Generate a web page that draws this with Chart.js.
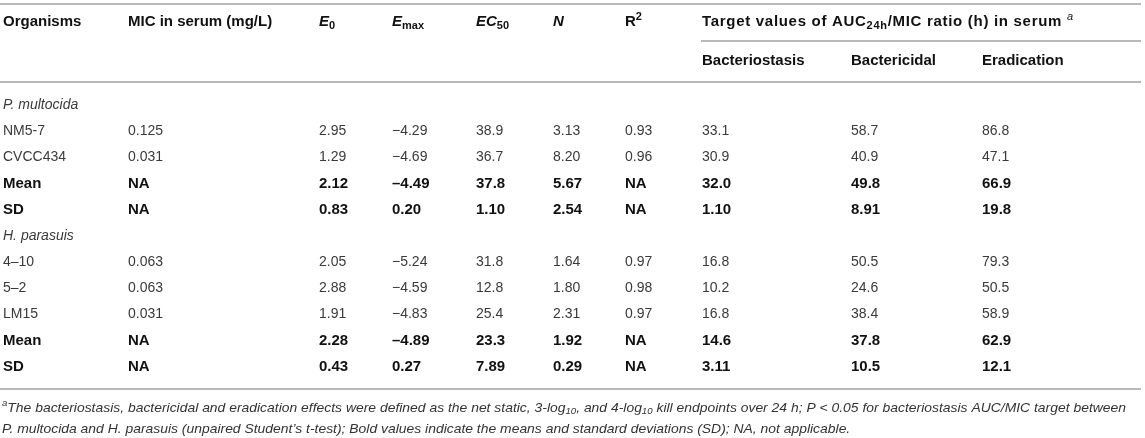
<!DOCTYPE html>
<html>
<head>
<meta charset="utf-8">
<script src="https://cdn.jsdelivr.net/npm/chart.js@4.4.0/dist/chart.umd.min.js"></script>
<style>
  html, body { margin: 0; padding: 0; background: #fff; }
  #wrap { width: 1145px; height: 438px; position: relative; }
</style>
</head>
<body>
<div id="wrap"><canvas id="table"></canvas></div>
<script>
// Table rows (first column) and the values in each column, as printed
var organisms = ['P. multocida', 'NM5-7', 'CVCC434', 'Mean', 'SD', 'H. parasuis', '4\u201310', '5\u20132', 'LM15', 'Mean', 'SD'];
var micSerum = ['', '0.125', '0.031', 'NA', 'NA', '', '0.063', '0.063', '0.031', 'NA', 'NA'];
var e0 = ['', '2.95', '1.29', '2.12', '0.83', '', '2.05', '2.88', '1.91', '2.28', '0.43'];
var emax = ['', '\u22124.29', '\u22124.69', '\u20134.49', '0.20', '', '\u22125.24', '\u22124.59', '\u22124.83', '\u20134.89', '0.27'];
var ec50 = ['', '38.9', '36.7', '37.8', '1.10', '', '31.8', '12.8', '25.4', '23.3', '7.89'];
var hillN = ['', '3.13', '8.20', '5.67', '2.54', '', '1.64', '1.80', '2.31', '1.92', '0.29'];
var rSquared = ['', '0.93', '0.96', 'NA', 'NA', '', '0.97', '0.98', '0.97', 'NA', 'NA'];
var bacteriostasis = ['', '33.1', '30.9', '32.0', '1.10', '', '16.8', '10.2', '16.8', '14.6', '3.11'];
var bactericidal = ['', '58.7', '40.9', '49.8', '8.91', '', '50.5', '24.6', '38.4', '37.8', '10.5'];
var eradication = ['', '86.8', '47.1', '66.9', '19.8', '', '79.3', '50.5', '58.9', '62.9', '12.1'];

var columns = [organisms, micSerum, e0, emax, ec50, hillN, rSquared, bacteriostasis, bactericidal, eradication];

// layout: left edge of each column (x scale runs in page pixels)
var colX = [3, 128, 319, 392, 476, 553, 625, 702, 851, 982];

var FONT = '"Liberation Sans", Arial, Helvetica, sans-serif';
var SIZE = 14;      // plain cells
var BOLD_SIZE = 15; // header and Mean/SD rows
var RULE = '#b8b8b8';

function fontFor(run, size) {
  return (run.i ? 'italic ' : '') + (run.b ? 'bold ' : '') + size + 'px ' + FONT;
}

// draw a line of mixed text (bold/italic/sub/sup), returns the end x
function drawRuns(ctx, x, y, runs, size, draw) {
  for (var k = 0; k < runs.length; k++) {
    var r = runs[k];
    var sz = (r.sub || r.sup) ? Math.round(size * 0.72) : size;
    var dy = r.sub ? size * 0.28 : (r.sup ? -size * 0.36 : 0);
    ctx.font = fontFor(r, sz);
    if (draw !== false) ctx.fillText(r.t, x, y + dy);
    x += ctx.measureText(r.t).width;
  }
  return x;
}

var headerRow1 = [
  [{t: 'Organisms', b: 1}],
  [{t: 'MIC in serum (mg/L)', b: 1}],
  [{t: 'E', b: 1, i: 1}, {t: '0', b: 1, sub: 1}],
  [{t: 'E', b: 1, i: 1}, {t: 'max', b: 1, sub: 1}],
  [{t: 'EC', b: 1, i: 1}, {t: '50', b: 1, sub: 1}],
  [{t: 'N', b: 1, i: 1}],
  [{t: 'R', b: 1}, {t: '2', b: 1, sup: 1}]
];
var groupHeader = [{t: 'Target values of AUC', b: 1}, {t: '24h', b: 1, sub: 1}, {t: '/MIC ratio (h) in serum ', b: 1}, {t: 'a', i: 1, sup: 1}];
var headerRow2 = ['Bacteriostasis', 'Bactericidal', 'Eradication'];

var note1 = [
  {t: 'a', i: 1, sup: 1},
  {t: 'The bacteriostasis, bactericidal and eradication effects were defined as the net static, 3-log', i: 1},
  {t: '10', i: 1, sub: 1},
  {t: ', and 4-log', i: 1},
  {t: '10', i: 1, sub: 1},
  {t: ' kill endpoints over 24 h; P < 0.05 for bacteriostasis AUC/MIC target between', i: 1}
];
var note2 = [
  {t: 'P. multocida and H. parasuis (unpaired Student\u2019s t-test); Bold values indicate the means and standard deviations (SD); NA, not applicable.', i: 1}
];

function hline(ctx, x1, x2, y) {
  ctx.beginPath();
  ctx.moveTo(x1, y);
  ctx.lineTo(x2, y);
  ctx.stroke();
}

var tablePlugin = {
  id: 'tableText',
  afterDatasetsDraw: function(chart) {
    var ctx = chart.ctx;
    ctx.save();
    ctx.textBaseline = 'middle';
    ctx.textAlign = 'left';

    // rules
    ctx.strokeStyle = RULE;
    ctx.lineWidth = 2;
    hline(ctx, 0, 1141, 4);
    hline(ctx, 701, 1141, 41);
    hline(ctx, 0, 1141, 82);
    hline(ctx, 0, 1141, 389);

    // header
    ctx.fillStyle = '#111';
    for (var h = 0; h < headerRow1.length; h++) {
      drawRuns(ctx, colX[h], 22, headerRow1[h], BOLD_SIZE);
    }
    // the group header is set a little looser than the rest
    if ('letterSpacing' in ctx) ctx.letterSpacing = '0.7px';
    drawRuns(ctx, colX[7], 22, groupHeader, BOLD_SIZE);
    if ('letterSpacing' in ctx) ctx.letterSpacing = '0px';
    for (var h2 = 0; h2 < headerRow2.length; h2++) {
      drawRuns(ctx, colX[7 + h2], 61, [{t: headerRow2[h2], b: 1}], BOLD_SIZE);
    }

    // cells, placed at the points the scales computed
    chart.data.datasets.forEach(function(ds, di) {
      var meta = chart.getDatasetMeta(di);
      meta.data.forEach(function(el, j) {
        var text = ds.data[j].t;
        if (!text) return;
        var row = organisms[j];
        var summary = row === 'Mean' || row === 'SD';
        var group = micSerum[j] === '';
        ctx.fillStyle = summary ? '#111' : '#3a3a3a';
        drawRuns(ctx, el.x, el.y, [{t: text, b: summary, i: group}], summary ? BOLD_SIZE : SIZE);
      });
    });

    // footnote, squeezed to the printed width
    ctx.fillStyle = '#333';
    var fs = 13;
    var w1 = drawRuns(ctx, 0, 0, note1, fs, false);
    var k = (1126 - 2) / w1;
    ctx.save();
    ctx.translate(2, 408);
    ctx.scale(k, 1);
    drawRuns(ctx, 0, 0, note1, fs);
    ctx.restore();
    ctx.save();
    ctx.translate(2, 429);
    ctx.scale(k, 1);
    drawRuns(ctx, 0, 0, note2, fs);
    ctx.restore();

    ctx.restore();
  }
};

var datasets = columns.map(function(col, c) {
  return {
    label: 'col' + c,
    data: col.map(function(t, i) { return {x: colX[c], y: i, t: t}; }),
    pointRadius: 0,
    pointHoverRadius: 0,
    showLine: false
  };
});

var chart = new Chart(document.getElementById('table'), {
  type: 'scatter',
  data: { datasets: datasets },
  options: {
    responsive: true,
    maintainAspectRatio: false,
    animation: false,
    events: [],
    layout: { autoPadding: false, padding: { top: 92, bottom: 58, left: 0, right: 0 } },
    plugins: { legend: { display: false }, tooltip: { enabled: false } },
    scales: {
      x: { type: 'linear', min: 0, max: 1145, display: false },
      y: { type: 'category', labels: organisms, offset: true, display: false }
    }
  },
  plugins: [tablePlugin]
});
</script>
</body>
</html>
